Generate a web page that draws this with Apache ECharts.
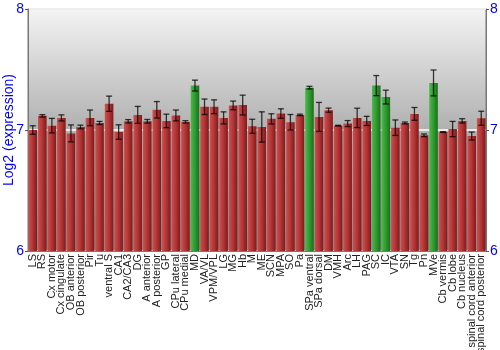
<!DOCTYPE html>
<html>
<head>
<meta charset="utf-8">
<script src="https://cdn.jsdelivr.net/npm/echarts@6/dist/echarts.min.js"></script>
<style>
  html, body { margin: 0; padding: 0; background: #fff; }
  #chart { width: 500px; height: 350px; }
</style>
</head>
<body>
<div id="chart"></div>
<script>
var regions = ['LS', 'RS', 'Cx motor', 'Cx cingulate', 'OB anterior', 'OB posterior', 'Pir', 'Tu',
  'ventral S', 'CA1', 'CA2/CA3', 'DG', 'A anterior', 'A posterior', 'GP', 'CPu lateral', 'CPu medial',
  'MD', 'VA/VL', 'VPM/VPL', 'LG', 'MG', 'Hb', 'M', 'ME', 'SCN', 'MPA', 'SO', 'Pa', 'SPa ventral',
  'SPa dorsal', 'DM', 'VMH', 'Arc', 'LH', 'PAG', 'SC', 'IC', 'VTA', 'SN', 'Tg', 'Pn', 'MVe',
  'Cb vermis', 'Cb lobe', 'Cb nucleus', 'spinal cord anterior', 'spinal cord posterior'];

var expression = [7.00, 7.117, 7.036, 7.10, 6.972, 7.025, 7.10, 7.058,
  7.217, 6.983, 7.072, 7.125, 7.072, 7.167, 7.075, 7.12, 7.067,
  7.367, 7.192, 7.192, 7.10, 7.203, 7.206, 7.031, 7.025, 7.092, 7.136, 7.064, 7.125, 7.35,
  7.108, 7.164, 7.036, 7.053, 7.10, 7.075, 7.367, 7.272, 7.019, 7.058, 7.133, 6.956, 7.389,
  6.983, 7.008, 7.075, 6.95, 7.097];

var stdErr = [0.035, 0.01, 0.06, 0.025, 0.07, 0.015, 0.065, 0.013,
  0.063, 0.06, 0.014, 0.07, 0.015, 0.068, 0.056, 0.045, 0.01,
  0.045, 0.064, 0.057, 0.05, 0.036, 0.082, 0.058, 0.125, 0.042, 0.039, 0.064, 0.006, 0.011,
  0.12, 0.017, 0.003, 0.025, 0.08, 0.038, 0.083, 0.057, 0.064, 0.008, 0.053, 0.011, 0.107,
  0.003, 0.063, 0.018, 0.033, 0.058];

var highlighted = ['MD', 'SPa ventral', 'SC', 'IC', 'MVe'];

var yTicks = { min: 6, max: 8, interval: 1 };

var redFill = new echarts.graphic.LinearGradient(0, 0, 1, 0, [
  { offset: 0, color: '#cc5050' },
  { offset: 0.5, color: '#b23434' },
  { offset: 1, color: '#7e1a1a' }
]);
var greenFill = new echarts.graphic.LinearGradient(0, 0, 1, 0, [
  { offset: 0, color: '#4cba4c' },
  { offset: 0.5, color: '#2f9a2f' },
  { offset: 1, color: '#1a6e1a' }
]);

var chart = echarts.init(document.getElementById('chart'));

var blueLabel = { color: '#0000ff', fontSize: 14, fontFamily: 'Liberation Sans' };

chart.setOption({
  animation: false,
  backgroundColor: '#fff',
  grid: {
    left: 28, right: 14, top: 9, bottom: 99,
    outerBoundsMode: 'none',
    containLabel: false,
    show: true,
    borderColor: '#777',
    borderWidth: 1,
    backgroundColor: new echarts.graphic.LinearGradient(0, 0, 0, 1, [
      { offset: 0, color: '#f4f4f4' },
      { offset: 0.5, color: '#b0b0b0' },
      { offset: 1, color: '#8a8a8a' }
    ])
  },
  xAxis: {
    type: 'category',
    data: regions,
    axisTick: { show: false },
    axisLine: { lineStyle: { color: '#777' } },
    axisLabel: {
      rotate: 90,
      interval: 0,
      margin: 3,
      color: '#222',
      fontSize: 11,
      fontFamily: 'Liberation Sans'
    }
  },
  yAxis: [
    {
      type: 'value',
      min: yTicks.min, max: yTicks.max, interval: yTicks.interval,
      name: 'Log2 (expression)',
      nameLocation: 'middle',
      nameGap: 12,
      nameMoveOverlap: false,
      nameTextStyle: blueLabel,
      axisLine: { show: true, lineStyle: { color: '#777' } },
      axisTick: { show: true, length: 3, lineStyle: { color: '#555' } },
      axisLabel: Object.assign({ margin: 4 }, blueLabel),
      splitLine: { show: true, lineStyle: { color: '#ffffff', width: 1.5 } }
    },
    {
      type: 'value',
      min: yTicks.min, max: yTicks.max, interval: yTicks.interval,
      position: 'right',
      axisLine: { show: true, lineStyle: { color: '#777' } },
      axisTick: { show: true, length: 3, lineStyle: { color: '#555' } },
      axisLabel: Object.assign({ margin: 4 }, blueLabel),
      splitLine: { show: false }
    }
  ],
  series: [
    {
      type: 'bar',
      barCategoryGap: '10%',
      data: expression.map(function (v, i) {
        return {
          value: v,
          itemStyle: { color: highlighted.indexOf(regions[i]) >= 0 ? greenFill : redFill }
        };
      })
    },
    {
      type: 'custom',
      z: 5,
      data: expression.map(function (v, i) { return [i, v - stdErr[i], v + stdErr[i]]; }),
      renderItem: function (params, api) {
        var lo = api.coord([api.value(0), api.value(1)]);
        var hi = api.coord([api.value(0), api.value(2)]);
        var cap = 3;
        var style = { stroke: 'rgba(0,0,0,0.75)', lineWidth: 1.3 };
        return {
          type: 'group',
          children: [
            { type: 'line', shape: { x1: hi[0], y1: hi[1], x2: lo[0], y2: lo[1] }, style: style },
            { type: 'line', shape: { x1: hi[0] - cap, y1: hi[1], x2: hi[0] + cap, y2: hi[1] }, style: style },
            { type: 'line', shape: { x1: lo[0] - cap, y1: lo[1], x2: lo[0] + cap, y2: lo[1] }, style: style }
          ]
        };
      }
    }
  ]
});
</script>
</body>
</html>
